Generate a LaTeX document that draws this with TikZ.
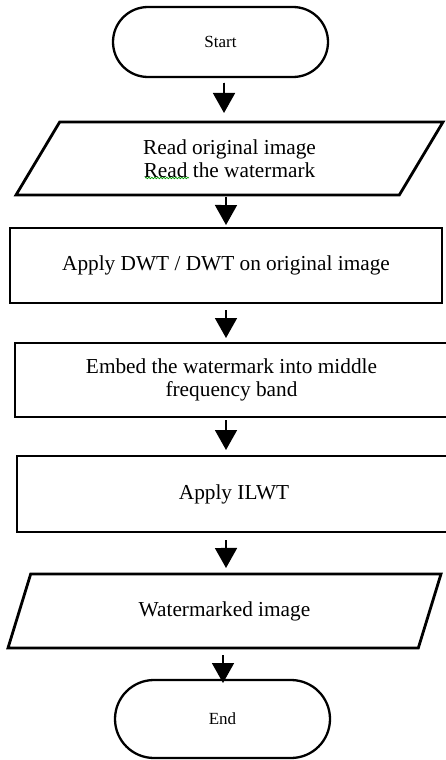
\documentclass[tikz,border=0pt]{standalone}
\usepackage{fontspec}
\setmainfont{Liberation Serif}
\usetikzlibrary{shapes.geometric,shapes.misc,arrows.meta,decorations.pathmorphing}

\tikzset{
  base/.style={draw=black, line width=2.8pt, fill=white, inner sep=0pt, outer sep=0pt,
    align=center, font=\fontsize{21.3}{23}\selectfont},
  term/.style={base, rounded rectangle, line width=2.3pt, font=\fontsize{17}{20}\selectfont},
  proc/.style={base, rectangle},
  iobox/.style={base, trapezium, trapezium stretches body},
  arr/.style={line width=1.7pt, -{Triangle[width=22pt,length=20pt]}},
  spell/.style={draw=green!60!black, line width=0.7pt, decorate,
    decoration={snake, amplitude=0.7pt, segment length=3pt}}
}

\begin{document}
\begin{tikzpicture}[x=1pt,y=-1pt]
  \useasboundingbox (0,0) rectangle (446,760);

  % flowchart blocks
  \node[term, minimum width=215pt, minimum height=70pt] (start) at (220.5,42) {Start};
  \node[iobox, trapezium left angle=41, trapezium right angle=139,
        minimum width=427pt, minimum height=73pt] (read) at (229.5,158.5)
        {Read original image\\Read the watermark};
  \node[proc, minimum width=432pt, minimum height=75pt] (dwt) at (226,265.5)
        {Apply DWT / DWT on original image};
  \node[proc, minimum width=433pt, minimum height=74pt] (embed) at (231.5,380)
        {Embed the watermark into middle\\frequency band};
  \node[proc, minimum width=434pt, minimum height=76pt] (ilwt) at (234,494)
        {Apply ILWT};
  \node[iobox, trapezium left angle=40.5, trapezium right angle=139.5,
        minimum width=433pt, minimum height=74pt] (out) at (224.5,611)
        {Watermarked image};
  \node[term, minimum width=215pt, minimum height=78pt] (end) at (222.5,719) {End};

  % spell-check underline beneath the second "Read"
  \draw[spell] (145,178) -- (189,178);

  % connectors
  \draw[arr, shorten <=6pt, shorten >=9pt] ([xshift=3.5pt]start.south) -- ([xshift=-5.5pt]read.north);
  \draw[arr, shorten <=2pt, shorten >=3pt] ([xshift=-3.5pt]read.south) -- (dwt.north);
  \draw[arr, shorten <=7pt, shorten >=5pt] (dwt.south) -- ([xshift=-5.5pt]embed.north);
  \draw[arr, shorten <=3pt, shorten >=6pt] ([xshift=-5.5pt]embed.south) -- ([xshift=-8pt]ilwt.north);
  \draw[arr, shorten <=8pt, shorten >=6pt] ([xshift=-8pt]ilwt.south) -- ([xshift=1.5pt]out.north);
  \draw[arr, shorten <=7pt, shorten >=-3pt] ([xshift=-1.5pt]out.south) -- ([xshift=0.5pt]end.north);
\end{tikzpicture}
\end{document}
